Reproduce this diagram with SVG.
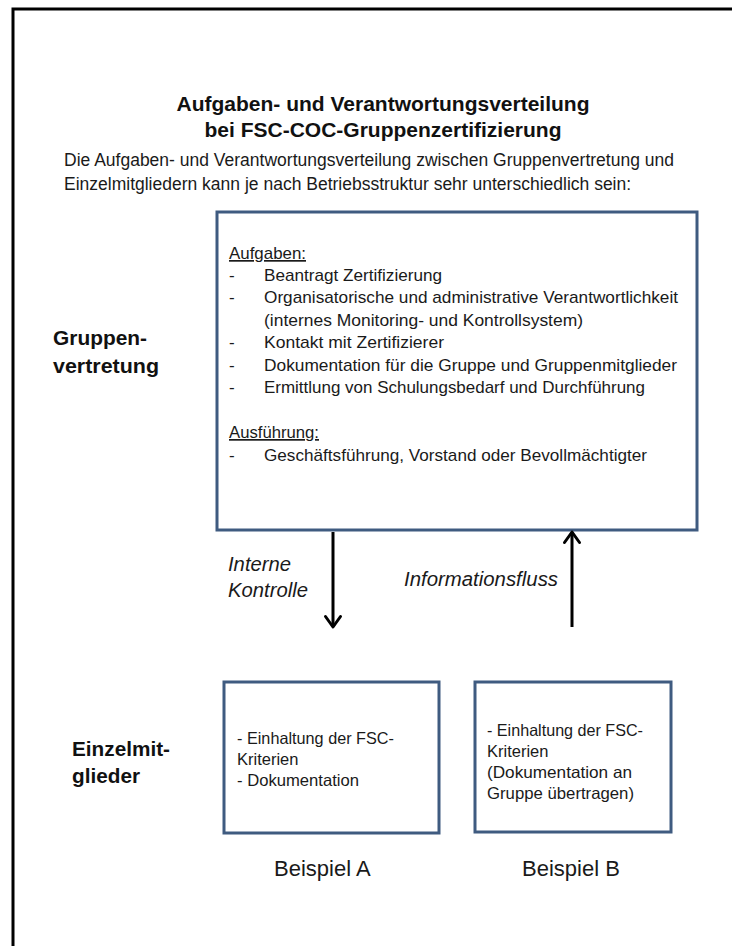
<svg xmlns="http://www.w3.org/2000/svg" width="732" height="946" viewBox="0 0 732 946">
<defs>
<style>
.t{font-family:"Liberation Sans",Arial,sans-serif;fill:#1a1a1a}
.title{font-size:21px;font-weight:bold;fill:#111}
.intro{font-size:17.5px}
.box{font-size:17px}
.lbl{font-size:20.5px;font-weight:bold;fill:#111}
.it{font-size:20px;font-style:italic}
.sm{font-size:16.5px}
.ex{font-size:22px}
.u{text-decoration:underline}
.node{fill:#fff;stroke:#3f5b80;stroke-width:3}
.conn{stroke:#000;stroke-width:3;fill:none}
</style>
<marker id="chev" viewBox="0 0 16 18" refX="12" refY="9" markerWidth="16" markerHeight="18" markerUnits="userSpaceOnUse" orient="auto" overflow="visible">
<path d="M1.5,1.5 L12,9 L1.5,16.5" fill="none" stroke="#000" stroke-width="3" stroke-linecap="round" stroke-linejoin="round"/>
</marker>
</defs>
<rect width="732" height="946" fill="#fff"/>
<path d="M13,946 V9 H732" fill="none" stroke="#000" stroke-width="3"/>

<g id="title">
<text class="t title" x="383" y="111" text-anchor="middle">Aufgaben- und Verantwortungsverteilung</text>
<text class="t title" x="383" y="137" text-anchor="middle">bei FSC-COC-Gruppenzertifizierung</text>
</g>
<g id="intro">
<text class="t intro" x="64" y="166">Die Aufgaben- und Verantwortungsverteilung zwischen Gruppenvertretung  und</text>
<text class="t intro" x="64" y="190">Einzelmitgliedern kann je nach Betriebsstruktur sehr unterschiedlich sein:</text>
</g>

<g id="label-gruppenvertretung">
<text class="t lbl" x="53" y="345" textLength="94" lengthAdjust="spacingAndGlyphs">Gruppen-</text>
<text class="t lbl" x="53" y="373" textLength="106" lengthAdjust="spacingAndGlyphs">vertretung</text>
</g>

<g id="gruppenvertretung">
<rect class="node" x="217" y="212" width="480" height="318"/>
<text class="t box u" x="229" y="259" textLength="77" lengthAdjust="spacingAndGlyphs">Aufgaben:</text>
<text class="t box" x="229" y="281">-</text>
<text class="t box" x="264" y="281" textLength="178" lengthAdjust="spacingAndGlyphs">Beantragt Zertifizierung</text>
<text class="t box" x="229" y="303">-</text>
<text class="t box" x="264" y="303" textLength="414" lengthAdjust="spacingAndGlyphs">Organisatorische und administrative Verantwortlichkeit</text>
<text class="t box" x="264" y="326" textLength="319" lengthAdjust="spacingAndGlyphs">(internes Monitoring- und Kontrollsystem)</text>
<text class="t box" x="229" y="348">-</text>
<text class="t box" x="264" y="348" textLength="180" lengthAdjust="spacingAndGlyphs">Kontakt mit Zertifizierer</text>
<text class="t box" x="229" y="371">-</text>
<text class="t box" x="264" y="371" textLength="413" lengthAdjust="spacingAndGlyphs">Dokumentation für die Gruppe und Gruppenmitglieder</text>
<text class="t box" x="229" y="393">-</text>
<text class="t box" x="264" y="393" textLength="381" lengthAdjust="spacingAndGlyphs">Ermittlung von Schulungsbedarf und Durchführung</text>
<text class="t box u" x="229" y="438" textLength="90" lengthAdjust="spacingAndGlyphs">Ausführung:</text>
<text class="t box" x="229" y="461">-</text>
<text class="t box" x="264" y="461" textLength="383" lengthAdjust="spacingAndGlyphs">Geschäftsführung, Vorstand oder Bevollmächtigter</text>
</g>

<g id="connectors">
<line class="conn" x1="333" y1="532" x2="333" y2="627" marker-end="url(#chev)"/>
<line class="conn" x1="572" y1="627" x2="572" y2="532" marker-end="url(#chev)"/>
<text class="t it" x="228" y="571" textLength="63" lengthAdjust="spacingAndGlyphs">Interne</text>
<text class="t it" x="228" y="597" textLength="80" lengthAdjust="spacingAndGlyphs">Kontrolle</text>
<text class="t it" x="404" y="586" textLength="154" lengthAdjust="spacingAndGlyphs">Informationsfluss</text>
</g>

<g id="label-einzelmitglieder">
<text class="t lbl" x="72" y="756" textLength="98" lengthAdjust="spacingAndGlyphs">Einzelmit-</text>
<text class="t lbl" x="72" y="783" textLength="68" lengthAdjust="spacingAndGlyphs">glieder</text>
</g>

<g id="beispiel-a">
<rect class="node" x="224" y="682" width="215" height="151"/>
<text class="t sm" x="237" y="744" textLength="157" lengthAdjust="spacingAndGlyphs">- Einhaltung der FSC-</text>
<text class="t sm" x="237" y="765">Kriterien</text>
<text class="t sm" x="237" y="786" textLength="122" lengthAdjust="spacingAndGlyphs">- Dokumentation</text>
<text class="t ex" x="274" y="876">Beispiel A</text>
</g>

<g id="beispiel-b">
<rect class="node" x="475" y="682" width="196" height="150"/>
<text class="t sm" x="487" y="736" textLength="156" lengthAdjust="spacingAndGlyphs">- Einhaltung der FSC-</text>
<text class="t sm" x="487" y="757">Kriterien</text>
<text class="t sm" x="487" y="778" textLength="145" lengthAdjust="spacingAndGlyphs">(Dokumentation an</text>
<text class="t sm" x="487" y="799" textLength="147" lengthAdjust="spacingAndGlyphs">Gruppe übertragen)</text>
<text class="t ex" x="522" y="876">Beispiel B</text>
</g>
</svg>
